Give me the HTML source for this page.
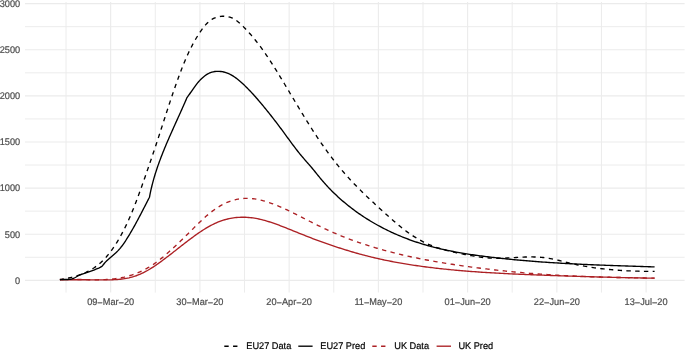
<!DOCTYPE html>
<html><head><meta charset="utf-8"><title>chart</title>
<style>
html,body{margin:0;padding:0;background:#fff;}
body{width:685px;height:350px;overflow:hidden;}
svg{display:block;}
text{font-family:"Liberation Sans",sans-serif;text-rendering:geometricPrecision;}
.tx{filter:grayscale(1);}
</style></head><body>
<svg width="685" height="350" viewBox="0 0 685 350">
<rect x="0" y="0" width="685" height="350" fill="#fff"/>
<path d="M25.0,257.29H684.6 M25.0,211.16H684.6 M25.0,165.04H684.6 M25.0,118.91H684.6 M25.0,72.79H684.6 M25.0,26.66H684.6 M66.03,2.0V292.6 M155.27,2.0V292.6 M244.51,2.0V292.6 M333.75,2.0V292.6 M422.99,2.0V292.6 M512.23,2.0V292.6 M601.47,2.0V292.6" stroke="#EBEBEB" stroke-width="0.95" fill="none"/>
<path d="M25.0,280.35H684.6 M25.0,234.23H684.6 M25.0,188.10H684.6 M25.0,141.98H684.6 M25.0,95.85H684.6 M25.0,49.73H684.6 M25.0,3.60H684.6 M110.65,2.0V292.6 M199.89,2.0V292.6 M289.13,2.0V292.6 M378.37,2.0V292.6 M467.61,2.0V292.6 M556.85,2.0V292.6 M646.09,2.0V292.6" stroke="#EBEBEB" stroke-width="1.1" fill="none"/>
<g class="tx">
<text transform="translate(20.2,283.65) scale(1.0,1.05)" x="0" y="0" font-size="9.2" fill="#4D4D4D" stroke="#4D4D4D" stroke-width="0.2" text-anchor="end">0</text>
<text transform="translate(20.2,237.53) scale(1.0,1.05)" x="0" y="0" font-size="9.2" fill="#4D4D4D" stroke="#4D4D4D" stroke-width="0.2" text-anchor="end">500</text>
<text transform="translate(20.2,191.40) scale(1.0,1.05)" x="0" y="0" font-size="9.2" fill="#4D4D4D" stroke="#4D4D4D" stroke-width="0.2" text-anchor="end">1000</text>
<text transform="translate(20.2,145.28) scale(1.0,1.05)" x="0" y="0" font-size="9.2" fill="#4D4D4D" stroke="#4D4D4D" stroke-width="0.2" text-anchor="end">1500</text>
<text transform="translate(20.2,99.15) scale(1.0,1.05)" x="0" y="0" font-size="9.2" fill="#4D4D4D" stroke="#4D4D4D" stroke-width="0.2" text-anchor="end">2000</text>
<text transform="translate(20.2,53.03) scale(1.0,1.05)" x="0" y="0" font-size="9.2" fill="#4D4D4D" stroke="#4D4D4D" stroke-width="0.2" text-anchor="end">2500</text>
<text transform="translate(20.2,6.90) scale(1.0,1.05)" x="0" y="0" font-size="9.2" fill="#4D4D4D" stroke="#4D4D4D" stroke-width="0.2" text-anchor="end">3000</text>
<text transform="translate(110.65,305.0) scale(1.0,1.05)" x="0" y="0" font-size="9.2" fill="#4D4D4D" stroke="#4D4D4D" stroke-width="0.2" text-anchor="middle">09<tspan dy="0.5">−</tspan><tspan dy="-0.5">Mar</tspan><tspan dy="0.5">−</tspan><tspan dy="-0.5">20</tspan></text>
<text transform="translate(199.89,305.0) scale(1.0,1.05)" x="0" y="0" font-size="9.2" fill="#4D4D4D" stroke="#4D4D4D" stroke-width="0.2" text-anchor="middle">30<tspan dy="0.5">−</tspan><tspan dy="-0.5">Mar</tspan><tspan dy="0.5">−</tspan><tspan dy="-0.5">20</tspan></text>
<text transform="translate(289.13,305.0) scale(1.0,1.05)" x="0" y="0" font-size="9.2" fill="#4D4D4D" stroke="#4D4D4D" stroke-width="0.2" text-anchor="middle">20<tspan dy="0.5">−</tspan><tspan dy="-0.5">Apr</tspan><tspan dy="0.5">−</tspan><tspan dy="-0.5">20</tspan></text>
<text transform="translate(378.37,305.0) scale(1.0,1.05)" x="0" y="0" font-size="9.2" fill="#4D4D4D" stroke="#4D4D4D" stroke-width="0.2" text-anchor="middle">11<tspan dy="0.5">−</tspan><tspan dy="-0.5">May</tspan><tspan dy="0.5">−</tspan><tspan dy="-0.5">20</tspan></text>
<text transform="translate(467.61,305.0) scale(1.0,1.05)" x="0" y="0" font-size="9.2" fill="#4D4D4D" stroke="#4D4D4D" stroke-width="0.2" text-anchor="middle">01<tspan dy="0.5">−</tspan><tspan dy="-0.5">Jun</tspan><tspan dy="0.5">−</tspan><tspan dy="-0.5">20</tspan></text>
<text transform="translate(556.85,305.0) scale(1.0,1.05)" x="0" y="0" font-size="9.2" fill="#4D4D4D" stroke="#4D4D4D" stroke-width="0.2" text-anchor="middle">22<tspan dy="0.5">−</tspan><tspan dy="-0.5">Jun</tspan><tspan dy="0.5">−</tspan><tspan dy="-0.5">20</tspan></text>
<text transform="translate(646.09,305.0) scale(1.0,1.05)" x="0" y="0" font-size="9.2" fill="#4D4D4D" stroke="#4D4D4D" stroke-width="0.2" text-anchor="middle">13<tspan dy="0.5">−</tspan><tspan dy="-0.5">Jul</tspan><tspan dy="0.5">−</tspan><tspan dy="-0.5">20</tspan></text>
</g>
<g fill="none" stroke-width="1.35" stroke-linejoin="round" stroke-linecap="butt">
<path d="M59.90,279.80 L61.42,279.77 L62.93,279.75 L64.44,279.73 L65.95,279.72 L67.45,279.71 L68.96,279.70 L70.46,279.70 L71.96,279.70 L73.46,279.70 L74.96,279.71 L76.46,279.71 L77.95,279.72 L79.45,279.73 L80.95,279.74 L82.45,279.76 L83.94,279.77 L85.44,279.78 L86.94,279.80 L88.44,279.82 L89.94,279.83 L91.44,279.85 L92.95,279.86 L94.45,279.87 L95.96,279.89 L97.47,279.90 L98.98,279.91 L100.50,279.91 L102.02,279.92 L103.54,279.92 L105.06,279.91 L106.58,279.90 L108.11,279.88 L109.63,279.85 L111.15,279.80 L112.67,279.75 L114.18,279.68 L115.70,279.59 L117.21,279.48 L118.71,279.36 L120.21,279.21 L121.71,279.04 L123.20,278.85 L124.68,278.63 L126.15,278.38 L127.62,278.10 L129.07,277.80 L130.52,277.46 L131.96,277.08 L133.38,276.68 L134.80,276.23 L136.20,275.75 L137.59,275.23 L138.97,274.68 L140.34,274.10 L141.69,273.48 L143.04,272.84 L144.38,272.17 L145.70,271.47 L147.02,270.74 L148.33,270.00 L149.62,269.23 L150.91,268.44 L152.19,267.63 L153.47,266.81 L154.73,265.97 L155.98,265.12 L157.23,264.25 L158.47,263.38 L159.71,262.49 L160.93,261.60 L162.15,260.70 L163.37,259.80 L164.57,258.89 L165.78,257.99 L166.97,257.08 L168.17,256.17 L169.35,255.25 L170.54,254.34 L171.72,253.42 L172.90,252.50 L174.08,251.58 L175.26,250.66 L176.43,249.74 L177.61,248.82 L178.78,247.90 L179.96,246.98 L181.14,246.06 L182.32,245.15 L183.50,244.23 L184.68,243.31 L185.87,242.40 L187.06,241.48 L188.26,240.57 L189.46,239.66 L190.67,238.75 L191.88,237.85 L193.10,236.95 L194.32,236.05 L195.56,235.16 L196.79,234.28 L198.04,233.40 L199.29,232.54 L200.55,231.69 L201.82,230.85 L203.10,230.02 L204.38,229.21 L205.68,228.41 L206.98,227.63 L208.29,226.88 L209.61,226.14 L210.93,225.42 L212.27,224.73 L213.62,224.06 L214.97,223.42 L216.34,222.80 L217.72,222.21 L219.10,221.65 L220.50,221.13 L221.91,220.63 L223.33,220.17 L224.76,219.74 L226.20,219.34 L227.65,218.98 L229.11,218.66 L230.57,218.37 L232.05,218.11 L233.53,217.89 L235.01,217.70 L236.50,217.54 L238.00,217.42 L239.49,217.32 L240.99,217.27 L242.49,217.24 L243.99,217.25 L245.49,217.29 L246.99,217.36 L248.49,217.46 L249.98,217.59 L251.47,217.76 L252.96,217.95 L254.44,218.18 L255.92,218.43 L257.40,218.71 L258.87,219.01 L260.34,219.34 L261.80,219.69 L263.27,220.06 L264.72,220.46 L266.18,220.87 L267.63,221.30 L269.07,221.74 L270.52,222.21 L271.96,222.68 L273.39,223.17 L274.82,223.67 L276.25,224.19 L277.68,224.71 L279.10,225.24 L280.52,225.77 L281.93,226.31 L283.34,226.86 L284.75,227.41 L286.15,227.96 L287.55,228.52 L288.95,229.08 L290.34,229.64 L291.73,230.20 L293.13,230.76 L294.52,231.32 L295.90,231.88 L297.29,232.44 L298.68,233.01 L300.07,233.57 L301.46,234.12 L302.85,234.68 L304.24,235.24 L305.63,235.79 L307.03,236.34 L308.42,236.89 L309.82,237.43 L311.22,237.97 L312.62,238.51 L314.03,239.04 L315.44,239.57 L316.84,240.10 L318.26,240.62 L319.67,241.14 L321.08,241.66 L322.50,242.17 L323.92,242.68 L325.34,243.19 L326.76,243.69 L328.18,244.18 L329.61,244.68 L331.04,245.17 L332.46,245.65 L333.89,246.13 L335.32,246.61 L336.75,247.08 L338.19,247.55 L339.62,248.01 L341.06,248.47 L342.49,248.93 L343.93,249.38 L345.37,249.83 L346.81,250.27 L348.25,250.71 L349.69,251.14 L351.13,251.57 L352.57,252.00 L354.02,252.41 L355.46,252.83 L356.91,253.24 L358.36,253.64 L359.81,254.04 L361.26,254.44 L362.71,254.83 L364.16,255.21 L365.62,255.59 L367.07,255.97 L368.53,256.34 L369.99,256.70 L371.45,257.06 L372.91,257.41 L374.37,257.76 L375.84,258.10 L377.30,258.44 L378.77,258.77 L380.24,259.09 L381.70,259.42 L383.17,259.73 L384.65,260.04 L386.12,260.35 L387.59,260.65 L389.07,260.95 L390.54,261.24 L392.02,261.52 L393.50,261.81 L394.98,262.08 L396.46,262.36 L397.94,262.63 L399.42,262.89 L400.90,263.15 L402.39,263.41 L403.87,263.66 L405.36,263.90 L406.84,264.15 L408.33,264.39 L409.82,264.62 L411.30,264.85 L412.79,265.08 L414.28,265.30 L415.77,265.52 L417.26,265.74 L418.75,265.95 L420.25,266.16 L421.74,266.36 L423.23,266.56 L424.72,266.76 L426.22,266.96 L427.71,267.15 L429.21,267.33 L430.70,267.52 L432.20,267.70 L433.69,267.88 L435.19,268.05 L436.68,268.23 L438.18,268.40 L439.67,268.56 L441.17,268.73 L442.67,268.89 L444.16,269.05 L445.66,269.20 L447.16,269.35 L448.66,269.51 L450.15,269.65 L451.65,269.80 L453.15,269.94 L454.65,270.08 L456.15,270.22 L457.64,270.35 L459.14,270.48 L460.64,270.61 L462.14,270.74 L463.64,270.87 L465.14,270.99 L466.64,271.11 L468.14,271.23 L469.64,271.35 L471.14,271.46 L472.64,271.57 L474.14,271.68 L475.64,271.79 L477.14,271.90 L478.64,272.00 L480.14,272.11 L481.64,272.21 L483.14,272.31 L484.65,272.40 L486.15,272.50 L487.65,272.59 L489.15,272.68 L490.65,272.77 L492.15,272.86 L493.66,272.95 L495.16,273.04 L496.66,273.12 L498.16,273.20 L499.67,273.28 L501.17,273.36 L502.67,273.44 L504.17,273.52 L505.68,273.60 L507.18,273.67 L508.68,273.74 L510.19,273.82 L511.69,273.89 L513.19,273.96 L514.70,274.03 L516.20,274.10 L517.70,274.16 L519.21,274.23 L520.71,274.30 L522.21,274.36 L523.72,274.42 L525.22,274.49 L526.72,274.55 L528.23,274.61 L529.73,274.67 L531.24,274.73 L532.74,274.79 L534.24,274.85 L535.75,274.91 L537.25,274.97 L538.76,275.02 L540.26,275.08 L541.76,275.14 L543.27,275.19 L544.77,275.25 L546.28,275.31 L547.78,275.36 L549.28,275.42 L550.79,275.47 L552.29,275.53 L553.80,275.58 L555.30,275.63 L556.81,275.69 L558.31,275.74 L559.81,275.79 L561.32,275.84 L562.82,275.89 L564.33,275.94 L565.83,276.00 L567.34,276.05 L568.84,276.10 L570.34,276.14 L571.85,276.19 L573.35,276.24 L574.86,276.29 L576.36,276.34 L577.87,276.39 L579.37,276.43 L580.87,276.48 L582.38,276.52 L583.88,276.57 L585.39,276.62 L586.89,276.66 L588.40,276.70 L589.90,276.75 L591.41,276.79 L592.91,276.84 L594.42,276.88 L595.92,276.92 L597.42,276.96 L598.93,277.00 L600.43,277.04 L601.94,277.08 L603.44,277.12 L604.95,277.16 L606.45,277.20 L607.96,277.24 L609.46,277.28 L610.97,277.32 L612.47,277.35 L613.97,277.39 L615.48,277.43 L616.98,277.46 L618.49,277.50 L619.99,277.53 L621.50,277.57 L623.00,277.60 L624.51,277.63 L626.01,277.67 L627.52,277.70 L629.02,277.73 L630.53,277.76 L632.03,277.79 L633.53,277.83 L635.04,277.86 L636.54,277.88 L638.05,277.91 L639.55,277.94 L641.06,277.97 L642.56,278.00 L644.07,278.02 L645.57,278.05 L647.08,278.08 L648.58,278.10 L650.09,278.13 L651.59,278.15 L653.10,278.18 L654.60,278.20" stroke="#AC2024"/>
<path d="M59.90,279.60 L61.40,279.53 L62.89,279.47 L64.39,279.42 L65.90,279.39 L67.40,279.37 L68.90,279.36 L70.41,279.36 L71.91,279.37 L73.42,279.38 L74.93,279.40 L76.43,279.43 L77.94,279.46 L79.45,279.50 L80.96,279.53 L82.47,279.57 L83.98,279.61 L85.49,279.65 L87.00,279.68 L88.51,279.72 L90.02,279.75 L91.53,279.77 L93.04,279.79 L94.55,279.80 L96.06,279.81 L97.57,279.80 L99.07,279.78 L100.58,279.76 L102.08,279.72 L103.59,279.66 L105.09,279.60 L106.59,279.51 L108.09,279.42 L109.59,279.30 L111.08,279.17 L112.58,279.01 L114.07,278.84 L115.56,278.64 L117.04,278.43 L118.52,278.20 L120.00,277.94 L121.47,277.66 L122.94,277.36 L124.41,277.04 L125.86,276.69 L127.31,276.32 L128.76,275.93 L130.20,275.51 L131.63,275.07 L133.05,274.60 L134.47,274.10 L135.88,273.58 L137.27,273.03 L138.66,272.46 L140.04,271.86 L141.41,271.23 L142.77,270.57 L144.12,269.89 L145.45,269.18 L146.78,268.45 L148.09,267.69 L149.39,266.91 L150.68,266.12 L151.95,265.30 L153.22,264.46 L154.46,263.60 L155.69,262.73 L156.91,261.84 L158.12,260.93 L159.31,260.01 L160.49,259.07 L161.66,258.13 L162.82,257.17 L163.97,256.20 L165.11,255.22 L166.24,254.24 L167.37,253.25 L168.49,252.25 L169.61,251.25 L170.72,250.24 L171.82,249.23 L172.93,248.22 L174.02,247.20 L175.12,246.17 L176.21,245.15 L177.30,244.12 L178.38,243.09 L179.47,242.05 L180.55,241.01 L181.63,239.97 L182.70,238.93 L183.78,237.88 L184.85,236.83 L185.92,235.78 L186.99,234.72 L188.07,233.67 L189.14,232.61 L190.21,231.55 L191.28,230.49 L192.35,229.43 L193.43,228.36 L194.50,227.30 L195.58,226.23 L196.66,225.17 L197.74,224.11 L198.83,223.05 L199.92,222.00 L201.01,220.95 L202.11,219.91 L203.22,218.88 L204.34,217.86 L205.46,216.86 L206.60,215.86 L207.74,214.88 L208.89,213.92 L210.05,212.97 L211.23,212.04 L212.41,211.13 L213.61,210.24 L214.82,209.37 L216.05,208.52 L217.29,207.70 L218.55,206.90 L219.82,206.13 L221.11,205.39 L222.42,204.68 L223.74,204.00 L225.09,203.35 L226.45,202.73 L227.84,202.15 L229.24,201.60 L230.67,201.10 L232.11,200.63 L233.57,200.19 L235.04,199.80 L236.53,199.46 L238.03,199.15 L239.53,198.89 L241.04,198.68 L242.55,198.51 L244.06,198.40 L245.58,198.33 L247.09,198.31 L248.60,198.35 L250.10,198.43 L251.60,198.55 L253.10,198.71 L254.59,198.91 L256.08,199.15 L257.56,199.42 L259.03,199.73 L260.50,200.06 L261.96,200.42 L263.41,200.80 L264.85,201.20 L266.29,201.63 L267.72,202.07 L269.14,202.54 L270.55,203.02 L271.96,203.52 L273.36,204.04 L274.76,204.57 L276.15,205.12 L277.54,205.69 L278.92,206.27 L280.30,206.86 L281.67,207.46 L283.04,208.07 L284.40,208.70 L285.77,209.33 L287.13,209.97 L288.48,210.62 L289.84,211.28 L291.19,211.94 L292.54,212.61 L293.89,213.29 L295.24,213.96 L296.59,214.64 L297.94,215.32 L299.29,216.00 L300.63,216.69 L301.98,217.37 L303.33,218.06 L304.68,218.75 L306.03,219.43 L307.37,220.12 L308.72,220.80 L310.07,221.49 L311.42,222.17 L312.77,222.85 L314.13,223.53 L315.48,224.20 L316.83,224.87 L318.19,225.54 L319.55,226.20 L320.91,226.86 L322.27,227.51 L323.63,228.16 L325.00,228.80 L326.36,229.44 L327.73,230.07 L329.11,230.69 L330.48,231.31 L331.86,231.92 L333.24,232.53 L334.62,233.12 L336.00,233.71 L337.39,234.30 L338.78,234.88 L340.17,235.45 L341.56,236.01 L342.96,236.57 L344.36,237.12 L345.75,237.67 L347.16,238.21 L348.56,238.75 L349.97,239.28 L351.37,239.80 L352.78,240.31 L354.20,240.83 L355.61,241.33 L357.03,241.83 L358.44,242.32 L359.86,242.81 L361.28,243.30 L362.71,243.77 L364.13,244.24 L365.56,244.71 L366.99,245.17 L368.42,245.63 L369.85,246.08 L371.28,246.52 L372.72,246.96 L374.16,247.40 L375.60,247.82 L377.04,248.25 L378.48,248.67 L379.92,249.08 L381.37,249.49 L382.81,249.90 L384.26,250.30 L385.71,250.69 L387.16,251.08 L388.61,251.47 L390.07,251.85 L391.52,252.22 L392.98,252.60 L394.44,252.96 L395.90,253.32 L397.36,253.68 L398.82,254.04 L400.28,254.39 L401.75,254.73 L403.21,255.07 L404.68,255.41 L406.14,255.74 L407.61,256.07 L409.08,256.40 L410.55,256.72 L412.03,257.04 L413.50,257.35 L414.97,257.66 L416.45,257.96 L417.92,258.26 L419.40,258.56 L420.88,258.86 L422.35,259.15 L423.83,259.44 L425.31,259.72 L426.79,260.00 L428.28,260.28 L429.76,260.55 L431.24,260.82 L432.72,261.09 L434.21,261.35 L435.69,261.61 L437.18,261.87 L438.67,262.12 L440.15,262.38 L441.64,262.63 L443.13,262.87 L444.62,263.11 L446.10,263.35 L447.59,263.59 L449.08,263.83 L450.57,264.06 L452.06,264.29 L453.55,264.51 L455.05,264.74 L456.54,264.96 L458.03,265.18 L459.52,265.40 L461.01,265.61 L462.51,265.82 L464.00,266.03 L465.49,266.24 L466.98,266.45 L468.48,266.65 L469.97,266.85 L471.46,267.05 L472.96,267.25 L474.45,267.44 L475.94,267.64 L477.44,267.83 L478.93,268.02 L480.42,268.21 L481.92,268.39 L483.41,268.58 L484.90,268.76 L486.40,268.94 L487.89,269.12 L489.39,269.29 L490.88,269.47 L492.37,269.64 L493.87,269.81 L495.36,269.98 L496.86,270.14 L498.35,270.31 L499.84,270.47 L501.34,270.63 L502.83,270.79 L504.33,270.95 L505.82,271.10 L507.32,271.25 L508.82,271.40 L510.31,271.55 L511.81,271.70 L513.30,271.84 L514.80,271.99 L516.29,272.13 L517.79,272.27 L519.29,272.40 L520.78,272.54 L522.28,272.67 L523.78,272.80 L525.28,272.93 L526.77,273.06 L528.27,273.18 L529.77,273.30 L531.27,273.42 L532.77,273.54 L534.27,273.66 L535.77,273.77 L537.27,273.88 L538.77,273.99 L540.27,274.10 L541.77,274.21 L543.27,274.31 L544.77,274.41 L546.27,274.51 L547.77,274.61 L549.27,274.71 L550.77,274.80 L552.28,274.90 L553.78,274.99 L555.28,275.07 L556.78,275.16 L558.29,275.25 L559.79,275.33 L561.29,275.41 L562.80,275.49 L564.30,275.57 L565.80,275.65 L567.31,275.72 L568.81,275.79 L570.32,275.87 L571.82,275.94 L573.33,276.00 L574.83,276.07 L576.34,276.14 L577.84,276.20 L579.35,276.26 L580.85,276.33 L582.36,276.39 L583.86,276.45 L585.37,276.50 L586.87,276.56 L588.38,276.61 L589.88,276.67 L591.39,276.72 L592.90,276.77 L594.40,276.82 L595.91,276.87 L597.41,276.92 L598.92,276.97 L600.43,277.01 L601.93,277.06 L603.44,277.10 L604.94,277.15 L606.45,277.19 L607.96,277.23 L609.46,277.27 L610.97,277.31 L612.47,277.35 L613.98,277.38 L615.49,277.42 L616.99,277.46 L618.50,277.49 L620.00,277.53 L621.51,277.56 L623.01,277.60 L624.52,277.63 L626.03,277.66 L627.53,277.69 L629.04,277.72 L630.54,277.76 L632.05,277.79 L633.55,277.82 L635.06,277.85 L636.56,277.87 L638.06,277.90 L639.57,277.93 L641.07,277.96 L642.58,277.99 L644.08,278.01 L645.58,278.04 L647.09,278.07 L648.59,278.09 L650.09,278.12 L651.60,278.15 L653.10,278.17 L654.60,278.20" stroke="#AC2024" stroke-dasharray="4.38 4.38" stroke-dashoffset="0.29"/>
<path d="M59.90,279.70 L61.40,279.57 L62.93,279.53 L64.47,279.52 L66.02,279.53 L67.57,279.51 L69.09,279.42 L70.58,279.23 L72.03,278.91 L73.43,278.41 L74.78,277.75 L76.11,277.00 L77.42,276.22 L78.76,275.46 L80.13,274.79 L81.55,274.25 L83.01,273.80 L84.47,273.37 L85.94,272.93 L87.39,272.46 L88.83,271.96 L90.27,271.44 L91.70,270.90 L93.12,270.35 L94.54,269.78 L95.96,269.21 L97.37,268.63 L98.78,268.04 L100.16,267.42 L101.43,266.66 L102.53,265.67 L103.49,264.48 L104.43,263.27 L105.45,262.14 L106.53,261.07 L107.64,260.04 L108.77,259.02 L109.91,258.02 L111.06,257.02 L112.22,256.03 L113.37,255.03 L114.51,254.02 L115.63,252.99 L116.72,251.94 L117.79,250.87 L118.83,249.76 L119.83,248.62 L120.80,247.45 L121.74,246.26 L122.65,245.04 L123.54,243.80 L124.41,242.55 L125.26,241.28 L126.10,240.00 L126.92,238.70 L127.72,237.41 L128.52,236.10 L129.31,234.80 L130.10,233.49 L130.87,232.17 L131.64,230.85 L132.40,229.53 L133.15,228.21 L133.90,226.88 L134.64,225.55 L135.38,224.22 L136.11,222.88 L136.83,221.54 L137.55,220.20 L138.27,218.86 L138.98,217.52 L139.69,216.17 L140.40,214.82 L141.10,213.47 L141.81,212.12 L142.51,210.77 L143.21,209.41 L143.90,208.06 L144.60,206.70 L145.30,205.34 L146.00,203.99 L146.70,202.63 L147.39,201.27 L148.09,199.92 L148.80,198.56 L149.50,197.20 L149.50,197.20 L149.77,195.70 L150.06,194.20 L150.36,192.70 L150.68,191.21 L151.00,189.72 L151.34,188.23 L151.70,186.75 L152.06,185.27 L152.43,183.80 L152.82,182.33 L153.22,180.86 L153.63,179.39 L154.04,177.93 L154.47,176.47 L154.91,175.02 L155.36,173.56 L155.82,172.11 L156.28,170.67 L156.76,169.22 L157.24,167.78 L157.74,166.34 L158.24,164.90 L158.75,163.47 L159.27,162.04 L159.79,160.61 L160.32,159.18 L160.86,157.76 L161.41,156.33 L161.96,154.91 L162.52,153.49 L163.08,152.08 L163.65,150.66 L164.22,149.25 L164.80,147.84 L165.39,146.43 L165.98,145.02 L166.57,143.61 L167.17,142.21 L167.77,140.80 L168.38,139.40 L168.99,138.00 L169.60,136.60 L170.22,135.20 L170.84,133.80 L171.46,132.40 L172.08,131.01 L172.70,129.61 L173.33,128.22 L173.96,126.82 L174.58,125.43 L175.21,124.04 L175.84,122.65 L176.47,121.26 L177.10,119.86 L177.73,118.47 L178.36,117.08 L178.99,115.69 L179.62,114.30 L180.25,112.91 L180.87,111.52 L181.50,110.13 L182.12,108.74 L182.74,107.35 L183.36,105.96 L183.97,104.56 L184.58,103.17 L185.19,101.78 L185.80,100.39 L186.40,98.99 L186.99,97.60 L187.00,97.60 L187.89,96.41 L188.76,95.21 L189.62,93.99 L190.48,92.76 L191.34,91.52 L192.20,90.27 L193.06,89.03 L193.94,87.79 L194.83,86.55 L195.73,85.33 L196.66,84.13 L197.61,82.94 L198.59,81.77 L199.61,80.63 L200.66,79.53 L201.75,78.45 L202.88,77.42 L204.05,76.44 L205.26,75.53 L206.51,74.68 L207.80,73.91 L209.13,73.23 L210.50,72.64 L211.90,72.16 L213.34,71.79 L214.81,71.53 L216.29,71.37 L217.79,71.31 L219.30,71.35 L220.79,71.48 L222.28,71.70 L223.75,72.00 L225.19,72.39 L226.60,72.85 L227.98,73.38 L229.34,73.99 L230.67,74.65 L231.98,75.38 L233.26,76.16 L234.53,76.99 L235.77,77.86 L236.99,78.77 L238.19,79.72 L239.37,80.70 L240.54,81.70 L241.68,82.73 L242.82,83.77 L243.93,84.82 L245.03,85.89 L246.12,86.95 L247.20,88.03 L248.26,89.11 L249.32,90.19 L250.36,91.28 L251.39,92.38 L252.41,93.48 L253.42,94.58 L254.43,95.70 L255.42,96.81 L256.41,97.93 L257.39,99.06 L258.37,100.19 L259.34,101.33 L260.31,102.47 L261.27,103.61 L262.22,104.76 L263.18,105.92 L264.13,107.07 L265.08,108.24 L266.03,109.40 L266.97,110.57 L267.92,111.75 L268.86,112.93 L269.80,114.11 L270.73,115.29 L271.67,116.48 L272.60,117.67 L273.53,118.87 L274.46,120.06 L275.38,121.26 L276.30,122.46 L277.22,123.67 L278.13,124.87 L279.05,126.08 L279.95,127.29 L280.86,128.50 L281.76,129.72 L282.66,130.93 L283.56,132.15 L284.45,133.36 L285.34,134.58 L286.23,135.80 L287.11,137.02 L288.00,138.23 L288.89,139.45 L289.77,140.66 L290.66,141.88 L291.55,143.09 L292.45,144.29 L293.35,145.50 L294.25,146.70 L295.16,147.89 L296.07,149.09 L296.99,150.27 L297.92,151.46 L298.86,152.63 L299.80,153.81 L300.76,154.97 L301.72,156.13 L302.69,157.28 L303.68,158.43 L304.66,159.57 L305.66,160.71 L306.65,161.85 L307.65,162.98 L308.64,164.12 L309.63,165.26 L310.62,166.41 L311.60,167.56 L312.57,168.72 L313.53,169.88 L314.49,171.04 L315.44,172.21 L316.38,173.39 L317.33,174.56 L318.28,175.73 L319.23,176.90 L320.18,178.06 L321.14,179.22 L322.11,180.37 L323.09,181.51 L324.08,182.65 L325.08,183.78 L326.08,184.89 L327.10,186.00 L328.13,187.11 L329.16,188.20 L330.21,189.28 L331.26,190.36 L332.32,191.43 L333.39,192.49 L334.47,193.54 L335.56,194.58 L336.66,195.61 L337.76,196.64 L338.88,197.65 L340.00,198.66 L341.13,199.66 L342.26,200.65 L343.41,201.63 L344.56,202.60 L345.72,203.57 L346.89,204.52 L348.06,205.47 L349.24,206.40 L350.43,207.33 L351.63,208.25 L352.83,209.16 L354.04,210.06 L355.25,210.95 L356.47,211.84 L357.70,212.71 L358.94,213.58 L360.18,214.43 L361.43,215.28 L362.68,216.12 L363.94,216.95 L365.20,217.77 L366.48,218.58 L367.75,219.38 L369.04,220.17 L370.33,220.96 L371.62,221.73 L372.92,222.50 L374.22,223.26 L375.53,224.00 L376.85,224.74 L378.17,225.47 L379.50,226.19 L380.83,226.91 L382.16,227.61 L383.50,228.30 L384.85,228.99 L386.20,229.66 L387.55,230.33 L388.91,230.99 L390.27,231.64 L391.64,232.28 L393.01,232.91 L394.39,233.53 L395.77,234.14 L397.15,234.75 L398.54,235.34 L399.93,235.93 L401.32,236.50 L402.72,237.07 L404.12,237.63 L405.53,238.18 L406.94,238.72 L408.35,239.25 L409.76,239.77 L411.18,240.29 L412.60,240.79 L414.02,241.29 L415.45,241.77 L416.88,242.25 L418.31,242.72 L419.74,243.17 L421.18,243.62 L422.62,244.06 L424.06,244.50 L425.50,244.92 L426.95,245.34 L428.40,245.74 L429.85,246.14 L431.30,246.53 L432.76,246.92 L434.21,247.29 L435.67,247.66 L437.13,248.02 L438.59,248.37 L440.06,248.72 L441.53,249.06 L442.99,249.39 L444.46,249.72 L445.93,250.03 L447.41,250.35 L448.88,250.65 L450.36,250.95 L451.84,251.24 L453.32,251.53 L454.80,251.81 L456.28,252.09 L457.76,252.36 L459.24,252.62 L460.73,252.88 L462.22,253.14 L463.70,253.39 L465.19,253.63 L466.68,253.87 L468.17,254.11 L469.66,254.34 L471.16,254.56 L472.65,254.78 L474.14,255.00 L475.64,255.21 L477.13,255.42 L478.63,255.63 L480.13,255.83 L481.62,256.03 L483.12,256.23 L484.62,256.42 L486.11,256.61 L487.61,256.79 L489.11,256.98 L490.61,257.16 L492.11,257.34 L493.61,257.51 L495.11,257.69 L496.61,257.86 L498.11,258.03 L499.61,258.19 L501.11,258.35 L502.61,258.52 L504.11,258.68 L505.61,258.83 L507.11,258.99 L508.61,259.14 L510.11,259.29 L511.61,259.44 L513.11,259.58 L514.61,259.72 L516.11,259.86 L517.61,260.00 L519.11,260.14 L520.62,260.28 L522.12,260.41 L523.62,260.54 L525.12,260.67 L526.62,260.79 L528.13,260.92 L529.63,261.04 L531.13,261.16 L532.63,261.28 L534.14,261.40 L535.64,261.51 L537.14,261.63 L538.64,261.74 L540.15,261.85 L541.65,261.96 L543.15,262.06 L544.66,262.17 L546.16,262.27 L547.66,262.37 L549.17,262.47 L550.67,262.57 L552.18,262.67 L553.68,262.76 L555.18,262.86 L556.69,262.95 L558.19,263.04 L559.70,263.13 L561.20,263.22 L562.71,263.30 L564.21,263.39 L565.72,263.47 L567.22,263.55 L568.73,263.64 L570.23,263.72 L571.74,263.79 L573.24,263.87 L574.75,263.95 L576.25,264.02 L577.76,264.10 L579.26,264.17 L580.77,264.24 L582.27,264.31 L583.78,264.38 L585.29,264.45 L586.79,264.52 L588.30,264.58 L589.80,264.65 L591.31,264.71 L592.82,264.78 L594.32,264.84 L595.83,264.90 L597.33,264.96 L598.84,265.02 L600.35,265.08 L601.85,265.14 L603.36,265.20 L604.87,265.26 L606.37,265.31 L607.88,265.37 L609.39,265.42 L610.89,265.48 L612.40,265.53 L613.91,265.58 L615.41,265.64 L616.92,265.69 L618.43,265.74 L619.93,265.79 L621.44,265.84 L622.95,265.89 L624.46,265.95 L625.96,265.99 L627.47,266.04 L628.98,266.09 L630.48,266.14 L631.99,266.19 L633.50,266.24 L635.01,266.29 L636.51,266.33 L638.02,266.38 L639.53,266.43 L641.03,266.48 L642.54,266.52 L644.05,266.57 L645.56,266.62 L647.06,266.67 L648.57,266.71 L650.08,266.76 L651.59,266.81 L653.09,266.85 L654.60,266.90" stroke="#000"/>
<path d="M59.90,279.50 L61.36,279.31 L62.83,279.09 L64.30,278.86 L65.78,278.60 L67.25,278.32 L68.72,278.01 L70.19,277.68 L71.66,277.32 L73.13,276.94 L74.58,276.53 L76.04,276.10 L77.48,275.64 L78.92,275.16 L80.34,274.65 L81.76,274.11 L83.16,273.54 L84.55,272.95 L85.92,272.33 L87.28,271.67 L88.62,270.99 L89.94,270.28 L91.24,269.54 L92.53,268.77 L93.79,267.97 L95.03,267.13 L96.24,266.27 L97.43,265.37 L98.59,264.44 L99.73,263.48 L100.85,262.50 L101.94,261.48 L103.01,260.44 L104.06,259.38 L105.08,258.29 L106.09,257.18 L107.07,256.05 L108.04,254.89 L108.99,253.72 L109.91,252.54 L110.83,251.33 L111.72,250.11 L112.59,248.88 L113.45,247.64 L114.30,246.38 L115.13,245.12 L115.95,243.85 L116.75,242.57 L117.54,241.28 L118.31,239.99 L119.08,238.69 L119.83,237.38 L120.57,236.07 L121.29,234.76 L122.01,233.44 L122.72,232.11 L123.41,230.78 L124.09,229.45 L124.77,228.11 L125.43,226.76 L126.09,225.41 L126.73,224.06 L127.37,222.70 L127.99,221.34 L128.61,219.97 L129.22,218.60 L129.83,217.23 L130.42,215.85 L131.01,214.47 L131.59,213.09 L132.17,211.71 L132.74,210.32 L133.30,208.93 L133.85,207.53 L134.41,206.13 L134.95,204.74 L135.49,203.33 L136.03,201.93 L136.56,200.53 L137.09,199.12 L137.61,197.71 L138.14,196.30 L138.65,194.89 L139.17,193.48 L139.68,192.07 L140.19,190.65 L140.70,189.24 L141.21,187.83 L141.72,186.41 L142.22,184.99 L142.72,183.58 L143.23,182.16 L143.73,180.74 L144.23,179.33 L144.73,177.91 L145.23,176.49 L145.72,175.07 L146.22,173.66 L146.71,172.24 L147.21,170.82 L147.70,169.40 L148.19,167.98 L148.68,166.56 L149.17,165.14 L149.66,163.72 L150.14,162.29 L150.63,160.87 L151.11,159.45 L151.60,158.03 L152.08,156.60 L152.56,155.18 L153.04,153.76 L153.52,152.33 L154.00,150.91 L154.47,149.48 L154.95,148.06 L155.42,146.63 L155.90,145.21 L156.37,143.78 L156.84,142.35 L157.31,140.93 L157.78,139.50 L158.25,138.07 L158.72,136.64 L159.18,135.21 L159.65,133.79 L160.11,132.36 L160.58,130.93 L161.04,129.50 L161.50,128.07 L161.97,126.64 L162.43,125.21 L162.89,123.77 L163.35,122.34 L163.81,120.91 L164.27,119.48 L164.74,118.05 L165.20,116.62 L165.66,115.19 L166.12,113.76 L166.59,112.33 L167.05,110.90 L167.52,109.48 L167.99,108.05 L168.45,106.62 L168.92,105.19 L169.39,103.76 L169.86,102.34 L170.34,100.91 L170.81,99.48 L171.29,98.06 L171.77,96.64 L172.25,95.21 L172.73,93.79 L173.21,92.37 L173.70,90.95 L174.19,89.53 L174.68,88.11 L175.18,86.69 L175.67,85.27 L176.17,83.86 L176.68,82.44 L177.18,81.03 L177.69,79.62 L178.20,78.20 L178.72,76.79 L179.24,75.39 L179.76,73.98 L180.29,72.57 L180.82,71.17 L181.36,69.77 L181.90,68.37 L182.45,66.97 L183.00,65.58 L183.57,64.19 L184.13,62.80 L184.71,61.41 L185.29,60.03 L185.89,58.65 L186.49,57.28 L187.10,55.91 L187.72,54.54 L188.34,53.18 L188.98,51.82 L189.63,50.47 L190.29,49.12 L190.97,47.78 L191.65,46.44 L192.35,45.11 L193.06,43.78 L193.78,42.46 L194.51,41.15 L195.26,39.84 L196.03,38.53 L196.80,37.24 L197.60,35.95 L198.41,34.67 L199.23,33.39 L200.07,32.13 L200.93,30.87 L201.81,29.62 L202.70,28.38 L203.62,27.17 L204.57,25.99 L205.55,24.85 L206.57,23.74 L207.63,22.69 L208.73,21.70 L209.87,20.77 L211.07,19.91 L212.32,19.13 L213.62,18.44 L214.98,17.83 L216.39,17.32 L217.85,16.90 L219.33,16.58 L220.83,16.35 L222.35,16.23 L223.86,16.20 L225.38,16.28 L226.88,16.46 L228.36,16.74 L229.80,17.14 L231.21,17.64 L232.57,18.24 L233.90,18.93 L235.18,19.71 L236.43,20.56 L237.65,21.47 L238.84,22.44 L240.00,23.45 L241.13,24.49 L242.24,25.56 L243.32,26.64 L244.39,27.73 L245.44,28.81 L246.47,29.90 L247.49,30.99 L248.50,32.09 L249.49,33.19 L250.48,34.31 L251.46,35.43 L252.42,36.57 L253.38,37.71 L254.34,38.87 L255.28,40.04 L256.22,41.21 L257.15,42.39 L258.07,43.58 L258.98,44.78 L259.89,45.98 L260.79,47.20 L261.68,48.41 L262.56,49.64 L263.44,50.86 L264.30,52.09 L265.17,53.33 L266.02,54.57 L266.87,55.81 L267.71,57.06 L268.54,58.30 L269.37,59.56 L270.19,60.81 L271.01,62.07 L271.82,63.32 L272.63,64.58 L273.43,65.85 L274.23,67.11 L275.02,68.38 L275.81,69.65 L276.60,70.92 L277.39,72.20 L278.17,73.47 L278.95,74.75 L279.73,76.03 L280.50,77.31 L281.28,78.59 L282.06,79.87 L282.83,81.15 L283.60,82.44 L284.38,83.73 L285.15,85.01 L285.92,86.30 L286.69,87.59 L287.46,88.88 L288.23,90.17 L289.00,91.46 L289.77,92.75 L290.54,94.05 L291.31,95.34 L292.08,96.63 L292.85,97.92 L293.63,99.22 L294.40,100.51 L295.17,101.80 L295.95,103.09 L296.72,104.38 L297.50,105.68 L298.27,106.97 L299.05,108.26 L299.83,109.55 L300.61,110.83 L301.39,112.12 L302.18,113.41 L302.96,114.70 L303.75,115.98 L304.54,117.26 L305.33,118.55 L306.12,119.83 L306.92,121.11 L307.72,122.38 L308.52,123.66 L309.32,124.93 L310.12,126.21 L310.93,127.48 L311.74,128.75 L312.56,130.01 L313.37,131.28 L314.19,132.54 L315.01,133.80 L315.84,135.05 L316.67,136.31 L317.50,137.56 L318.34,138.81 L319.18,140.05 L320.02,141.30 L320.87,142.54 L321.72,143.78 L322.58,145.01 L323.44,146.24 L324.30,147.47 L325.17,148.69 L326.05,149.91 L326.92,151.13 L327.81,152.34 L328.69,153.55 L329.59,154.76 L330.48,155.96 L331.39,157.15 L332.29,158.35 L333.21,159.53 L334.13,160.72 L335.05,161.90 L335.98,163.07 L336.91,164.24 L337.85,165.41 L338.80,166.57 L339.75,167.73 L340.71,168.88 L341.68,170.03 L342.65,171.17 L343.63,172.30 L344.61,173.43 L345.60,174.56 L346.60,175.68 L347.60,176.79 L348.61,177.90 L349.62,179.01 L350.64,180.11 L351.67,181.21 L352.70,182.30 L353.73,183.39 L354.77,184.47 L355.82,185.55 L356.87,186.62 L357.92,187.69 L358.98,188.76 L360.05,189.83 L361.11,190.89 L362.18,191.94 L363.26,192.99 L364.34,194.04 L365.42,195.09 L366.50,196.13 L367.59,197.18 L368.68,198.21 L369.78,199.25 L370.87,200.28 L371.97,201.31 L373.07,202.34 L374.18,203.36 L375.28,204.39 L376.39,205.41 L377.50,206.43 L378.61,207.44 L379.72,208.46 L380.83,209.47 L381.95,210.48 L383.06,211.49 L384.18,212.50 L385.30,213.51 L386.42,214.52 L387.53,215.52 L388.65,216.53 L389.77,217.53 L390.90,218.53 L392.02,219.52 L393.15,220.51 L394.28,221.50 L395.42,222.48 L396.56,223.45 L397.71,224.42 L398.86,225.38 L400.01,226.33 L401.18,227.27 L402.35,228.21 L403.53,229.13 L404.72,230.04 L405.92,230.95 L407.12,231.84 L408.34,232.71 L409.56,233.58 L410.80,234.43 L412.05,235.27 L413.30,236.09 L414.57,236.90 L415.84,237.69 L417.13,238.46 L418.42,239.22 L419.72,239.96 L421.04,240.68 L422.36,241.39 L423.69,242.07 L425.03,242.73 L426.38,243.38 L427.75,244.00 L429.12,244.60 L430.49,245.18 L431.88,245.74 L433.28,246.27 L434.68,246.79 L436.10,247.29 L437.52,247.77 L438.94,248.23 L440.38,248.67 L441.82,249.10 L443.26,249.52 L444.71,249.92 L446.17,250.31 L447.63,250.68 L449.09,251.05 L450.56,251.40 L452.03,251.74 L453.50,252.08 L454.98,252.41 L456.45,252.72 L457.93,253.04 L459.41,253.35 L460.89,253.65 L462.37,253.95 L463.86,254.24 L465.34,254.53 L466.82,254.82 L468.30,255.11 L469.77,255.39 L471.25,255.66 L472.73,255.93 L474.21,256.19 L475.69,256.43 L477.17,256.67 L478.66,256.89 L480.14,257.11 L481.62,257.30 L483.10,257.49 L484.59,257.65 L486.07,257.80 L487.56,257.93 L489.05,258.04 L490.54,258.13 L492.04,258.20 L493.53,258.25 L495.03,258.28 L496.52,258.29 L498.02,258.29 L499.52,258.27 L501.02,258.24 L502.53,258.19 L504.03,258.14 L505.53,258.07 L507.04,258.00 L508.54,257.93 L510.05,257.84 L511.55,257.76 L513.06,257.67 L514.57,257.58 L516.07,257.49 L517.58,257.40 L519.08,257.32 L520.59,257.24 L522.09,257.16 L523.60,257.10 L525.10,257.04 L526.60,256.99 L528.11,256.96 L529.61,256.93 L531.11,256.92 L532.60,256.93 L534.10,256.96 L535.60,257.00 L537.09,257.06 L538.58,257.14 L540.07,257.25 L541.56,257.38 L543.04,257.53 L544.53,257.71 L546.01,257.92 L547.49,258.14 L548.96,258.39 L550.44,258.65 L551.92,258.93 L553.39,259.23 L554.86,259.54 L556.33,259.86 L557.80,260.19 L559.27,260.53 L560.74,260.88 L562.21,261.23 L563.68,261.59 L565.15,261.95 L566.62,262.32 L568.08,262.68 L569.55,263.04 L571.02,263.39 L572.49,263.74 L573.96,264.09 L575.43,264.42 L576.91,264.74 L578.38,265.06 L579.85,265.36 L581.33,265.65 L582.81,265.93 L584.28,266.20 L585.76,266.45 L587.24,266.70 L588.72,266.94 L590.21,267.18 L591.69,267.40 L593.17,267.61 L594.66,267.82 L596.14,268.02 L597.63,268.21 L599.12,268.40 L600.61,268.57 L602.10,268.75 L603.59,268.91 L605.08,269.07 L606.57,269.23 L608.07,269.38 L609.56,269.52 L611.06,269.66 L612.56,269.79 L614.05,269.92 L615.55,270.04 L617.05,270.15 L618.55,270.26 L620.05,270.37 L621.55,270.47 L623.05,270.56 L624.55,270.65 L626.05,270.73 L627.55,270.81 L629.05,270.88 L630.56,270.94 L632.06,271.01 L633.56,271.06 L635.06,271.11 L636.57,271.16 L638.07,271.20 L639.57,271.23 L641.08,271.26 L642.58,271.29 L644.08,271.30 L645.59,271.32 L647.09,271.33 L648.59,271.33 L650.09,271.33 L651.60,271.33 L653.10,271.31 L654.60,271.30" stroke="#000" stroke-dasharray="4.38 4.38" stroke-dashoffset="0.54"/>
</g>
<g fill="none" stroke-width="1.35">
<path d="M224.3,346.2H238.6" stroke="#000" stroke-dasharray="4.38 4.38"/>
<path d="M298.3,346.2H312.6" stroke="#000"/>
<path d="M372.3,346.2H386.6" stroke="#AC2024" stroke-dasharray="4.38 4.38"/>
<path d="M436.6,346.2H451.0" stroke="#AC2024"/>
</g>
<g class="tx">
<text transform="translate(246.3,349.4) scale(1.0,1.05)" x="0" y="0" font-size="9.2" fill="#000" stroke="#000" stroke-width="0.2">EU27 Data</text>
<text transform="translate(320.3,349.4) scale(1.0,1.05)" x="0" y="0" font-size="9.2" fill="#000" stroke="#000" stroke-width="0.2">EU27 Pred</text>
<text transform="translate(394.3,349.4) scale(1.0,1.05)" x="0" y="0" font-size="9.2" fill="#000" stroke="#000" stroke-width="0.2">UK Data</text>
<text transform="translate(458.4,349.4) scale(1.0,1.05)" x="0" y="0" font-size="9.2" fill="#000" stroke="#000" stroke-width="0.2">UK Pred</text>
</g>
</svg>
</body></html>
